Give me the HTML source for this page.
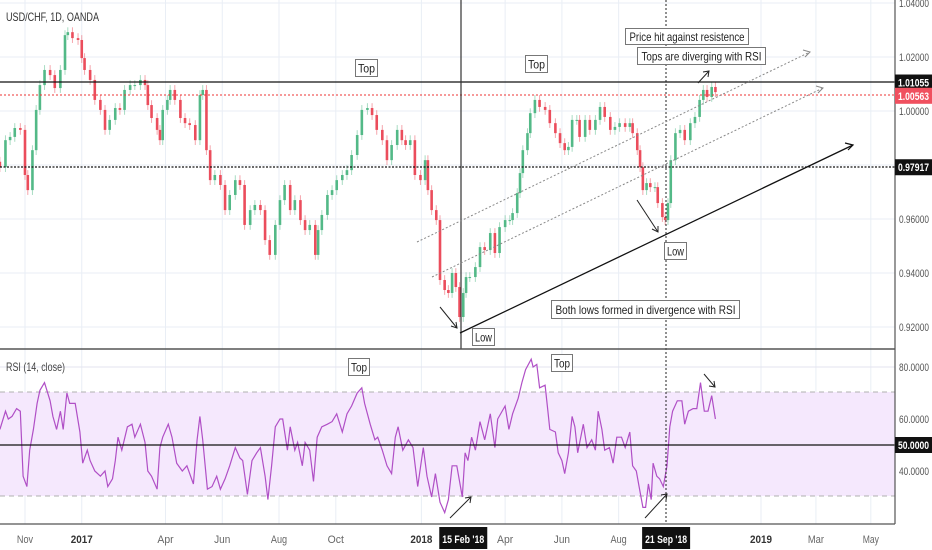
<!DOCTYPE html>
<html><head><meta charset="utf-8"><style>
html,body{margin:0;padding:0;background:#fff;}
svg{display:block;font-family:"Liberation Sans",sans-serif;}
</style></head><body>
<svg id="c" width="932" height="550" viewBox="0 0 932 550">
<g id="grid"></g>
<rect x="0" y="392" width="895" height="104" fill="#f5e8fd"/>
<line x1="0" y1="392" x2="895" y2="392" stroke="#b0b0b0" stroke-dasharray="5,4"/>
<line x1="0" y1="496" x2="895" y2="496" stroke="#b0b0b0" stroke-dasharray="5,4"/>
<g id="candles"></g>
<path id="rsiLine" fill="none" stroke="#b04fc6" stroke-width="1.2"/>
<g id="levels">
<line x1="0" y1="82" x2="895" y2="82" stroke="#111" stroke-width="1.3"/>
<line x1="0" y1="95" x2="895" y2="95" stroke="#e33" stroke-dasharray="2,2"/>
<line x1="0" y1="167" x2="895" y2="167" stroke="#111" stroke-width="1.3" stroke-dasharray="2,1.5"/>
<line x1="0" y1="445" x2="895" y2="445" stroke="#111" stroke-width="1.3"/>
<line x1="461" y1="0" x2="461" y2="349" stroke="#333" stroke-width="1.2"/>
<line x1="666" y1="0" x2="666" y2="524" stroke="#222" stroke-dasharray="2,2"/>
<line x1="417" y1="242" x2="810" y2="52" stroke="#888" stroke-dasharray="2,2"/>
<line x1="432" y1="277" x2="823" y2="88" stroke="#888" stroke-dasharray="2,2"/>
<line x1="460" y1="333" x2="853" y2="145" stroke="#111" stroke-width="1.3"/>
<path d="M845,143 L853,145 L848,150" fill="none" stroke="#111" stroke-width="1.2"/>
<path d="M803,50 L810,52 L805,57 M816,86 L823,88 L818,93" fill="none" stroke="#888"/>
<line x1="698" y1="83" x2="709" y2="71" stroke="#222"/>
<path d="M703,72 L709,71 L708,77" fill="none" stroke="#222"/>
<line x1="440" y1="307" x2="457" y2="328" stroke="#222"/>
<path d="M451,326 L457,328 L456,322" fill="none" stroke="#222"/>
<line x1="637" y1="200" x2="658" y2="232" stroke="#222"/>
<path d="M652,229 L658,232 L658,226" fill="none" stroke="#222"/>
<line x1="450" y1="518" x2="471" y2="497" stroke="#222"/>
<path d="M465,498 L471,497 L470,503" fill="none" stroke="#222"/>
<line x1="645" y1="518" x2="667" y2="494" stroke="#222"/>
<path d="M661,495 L667,494 L666,500" fill="none" stroke="#222"/>
<line x1="704" y1="374" x2="715" y2="387" stroke="#222"/>
<path d="M709,386 L715,387 L714,381" fill="none" stroke="#222"/>
</g>
<g font-size="12" fill="#222">
<g><rect x="355.500" y="59.500" width="22" height="17" fill="#fff" stroke="#777"/><text x="366.500" y="72.500" text-anchor="middle" textLength="17" lengthAdjust="spacingAndGlyphs">Top</text></g>
<g><rect x="525.500" y="55.500" width="22" height="17" fill="#fff" stroke="#777"/><text x="536.500" y="68.500" text-anchor="middle" textLength="17" lengthAdjust="spacingAndGlyphs">Top</text></g>
<g><rect x="625.500" y="28.500" width="123" height="16" fill="#fff" stroke="#777"/><text x="687" y="41" text-anchor="middle" textLength="115" lengthAdjust="spacingAndGlyphs">Price hit against resistence</text></g>
<g><rect x="637.500" y="47.500" width="128" height="17" fill="#fff" stroke="#777"/><text x="701.500" y="60.500" text-anchor="middle" textLength="120" lengthAdjust="spacingAndGlyphs">Tops are diverging with RSI</text></g>
<g><rect x="472.500" y="328.500" width="22" height="17" fill="#fff" stroke="#777"/><text x="483.500" y="341.500" text-anchor="middle" textLength="17" lengthAdjust="spacingAndGlyphs">Low</text></g>
<g><rect x="664.500" y="242.500" width="22" height="17" fill="#fff" stroke="#777"/><text x="675.500" y="255.500" text-anchor="middle" textLength="17" lengthAdjust="spacingAndGlyphs">Low</text></g>
<g><rect x="551.500" y="300.500" width="188" height="18" fill="#fff" stroke="#777"/><text x="645.500" y="314" text-anchor="middle" textLength="180" lengthAdjust="spacingAndGlyphs">Both lows formed in divergence with RSI</text></g>
<g><rect x="348.500" y="358.500" width="21" height="17" fill="#fff" stroke="#777"/><text x="359" y="371.500" text-anchor="middle" textLength="16" lengthAdjust="spacingAndGlyphs">Top</text></g>
<g><rect x="551.500" y="354.500" width="21" height="17" fill="#fff" stroke="#777"/><text x="562" y="367.500" text-anchor="middle" textLength="16" lengthAdjust="spacingAndGlyphs">Top</text></g>
</g>
<text x="6" y="21" font-size="12" fill="#333" textLength="93" lengthAdjust="spacingAndGlyphs">USD/CHF, 1D, OANDA</text>
<text x="6" y="371" font-size="12" fill="#444" textLength="59" lengthAdjust="spacingAndGlyphs">RSI (14, close)</text>
<line x1="0" y1="349" x2="895" y2="349" stroke="#555" stroke-width="1.5"/>
<line x1="0" y1="524" x2="895" y2="524" stroke="#555" stroke-width="1.2"/>
<line x1="895" y1="0" x2="895" y2="524" stroke="#555" stroke-width="1.2"/>
<g id="axes" font-size="11" fill="#555"></g>
</svg>
<script>
const priceDays=[-27,-21,-16,-11,-5,0,3,8,12,16,21,27,32,38,43,46,51,57,61,64,70,75,81,86,91,97,102,107,113,118,124,129,132,136,142,145,148,153,156,161,167,172,177,183,188,191,195,199,204,210,215,220,226,231,236,242,247,253,258,263,269,274,279,285,290,296,301,306,312,315,319,325,330,335,341,346,351,357,362,368,373,378,384,389,394,400,405,409,414,419,425,430,433,437,442,446,451,455,459,463,467,471,474,478,484,489,494,500,505,510,516,521,524,529,532,535,540,543,548,553,559,564,570,575,580,584,588,593,596,602,607,613,618,623,629,634,639,645,650,653,658,661,664,668,672,677,680,685,688,691,694,699,704,709,715,720,725,729,733,738,742];
const closes=[0.9792,0.9892,0.9904,0.9937,0.9930,0.9763,0.9707,0.9855,1.0004,1.0096,1.0152,1.0133,1.0085,1.0152,1.0281,1.0292,1.0270,1.0263,1.0196,1.0152,1.0115,1.0041,1.0004,0.9930,0.9967,1.0011,1.0004,1.0078,1.0096,1.0096,1.0115,1.0096,1.0022,0.9974,0.9930,0.9892,1.0004,1.0041,1.0078,1.0041,0.9974,0.9955,0.9948,0.9892,1.0059,1.0078,0.9855,0.9744,0.9763,0.9726,0.9633,0.9689,0.9744,0.9726,0.9578,0.9633,0.9652,0.9633,0.9522,0.9467,0.9578,0.9670,0.9726,0.9633,0.9670,0.9596,0.9559,0.9578,0.9467,0.9559,0.9615,0.9689,0.9707,0.9744,0.9763,0.9781,0.9837,0.9911,1.0004,1.0011,0.9985,0.9930,0.9892,0.9818,0.9874,0.9930,0.9892,0.9874,0.9892,0.9763,0.9744,0.9818,0.9707,0.9633,0.9596,0.9374,0.9337,0.9326,0.9400,0.9348,0.9237,0.9326,0.9385,0.9385,0.9422,0.9496,0.9485,0.9548,0.9474,0.9570,0.9596,0.9596,0.9622,0.9696,0.9770,0.9855,0.9918,0.9992,1.0041,1.0015,1.0004,0.9955,0.9918,0.9881,0.9855,0.9867,0.9967,0.9967,0.9904,0.9967,0.9930,0.9967,1.0015,0.9978,0.9930,0.9941,0.9955,0.9941,0.9955,0.9918,0.9855,0.9792,0.9707,0.9733,0.9718,0.9718,0.9659,0.9607,0.9596,0.9659,0.9818,0.9918,0.9930,0.9892,0.9955,0.9978,1.0041,1.0078,1.0052,1.0089,1.0070];
const rsiDays=[-27,-21,-18,-14,-9,-5,-2,2,5,9,13,16,21,27,30,34,38,41,45,48,54,59,62,67,70,75,81,86,89,94,97,100,104,110,115,118,124,129,132,136,142,145,148,154,158,163,169,174,181,185,188,191,196,201,206,210,215,220,226,231,234,239,244,249,253,258,261,265,269,274,277,282,285,290,293,298,301,306,310,314,319,325,330,335,341,346,351,357,362,365,371,376,379,384,389,394,398,401,406,412,417,422,428,432,437,441,446,451,455,459,464,470,473,476,480,484,489,494,500,505,508,516,520,524,530,534,538,544,546,550,553,559,562,564,570,573,577,580,584,588,591,594,600,604,609,613,616,620,623,628,632,636,641,645,650,653,657,660,664,667,670,673,675,679,682,686,690,693,696,701,706,709,713,718,722,726,730,734,738,742];
const rsiValues=[56,63,60,61,64,63,38,34,48,56,66,71,74,67,61,56,63,56,70,66,66,55,43,48,44,40,38,40,34,37,44,53,48,57,58,53,58,51,40,38,33,49,53,58,53,43,40,42,35,52,61,52,33,34,38,33,37,42,49,45,44,31,44,47,49,38,29,42,57,60,60,48,57,48,51,42,51,48,36,53,57,58,59,62,55,62,65,70,72,66,58,52,53,48,42,39,53,57,48,52,49,34,49,38,30,39,28,24,29,42,42,30,47,44,53,48,59,52,62,49,60,65,56,62,68,74,79,83,80,81,72,73,63,56,55,47,44,39,47,61,57,47,58,49,52,48,63,56,48,49,43,53,53,49,55,42,40,34,26,26,35,29,43,38,37,34,42,57,63,67,67,58,63,64,64,74,63,63,69,60];
const priceTicks=[1.04,1.02,1.00,0.98,0.96,0.94,0.92];
const priceTickLabels=["1.04000","1.02000","1.00000","","0.96000","0.94000","0.92000"];
const rsiTicks=[80,60,40];
const rsiTickLabels=["80.0000","60.0000","40.0000"];
const timeDays=[0,61,151,212,273,334,426,471,516,577,638,689,791,850,909];
const timeLabels=["Nov","2017","Apr","Jun","Aug","Oct","2018","15 Feb '18","Apr","Jun","Aug","21 Sep '18","2019","Mar","May"];
const markers=[{v:1.01055,t:"1.01055",bg:"#111"},{v:1.00563,t:"1.00563",bg:"#f0505f"},{v:0.97917,t:"0.97917",bg:"#111"}];

const NS="http://www.w3.org/2000/svg";
const X=d=>25+d*0.9305;
const PY=p=>3+(1.04-p)*2700;
const RY=v=>445-(v-50)*2.6;
function mk(tag,attrs,parent){const e=document.createElementNS(NS,tag);for(const k in attrs)e.setAttribute(k,attrs[k]);parent.appendChild(e);return e;}
const grid=document.getElementById('grid'),axes=document.getElementById('axes'),cg=document.getElementById('candles');
timeDays.forEach((d,i)=>{
  const x=X(d);
  const lab=timeLabels[i];
  const special=lab.includes("'");
  if(!special){const l=mk('line',{x1:x,y1:0,x2:x,y2:524,stroke:'#e9eef5'},grid);
  
  }
  if(special){
    const r=mk('rect',{x:x-24,y:527,width:48,height:22,fill:'#111'},axes);
    
    
  }
  const bold=/^\d{4}$/.test(lab)||special;
  const tl=special?42:(lab.length===4&&bold?22:lab.length*5.4);
  const t=mk('text',{x:x,y:543,'text-anchor':'middle',fill:special?'#fff':(bold?'#333':'#666'),'font-weight':bold?'bold':'normal',textLength:tl,lengthAdjust:'spacingAndGlyphs'},axes);
  t.textContent=lab;
  
  
});
priceTicks.forEach((p,i)=>{
  const y=PY(p);
  const l=mk('line',{x1:0,y1:y,x2:895,y2:y,stroke:'#e9eef5'},grid);
  
  
  if(priceTickLabels[i]){const t=mk('text',{x:899,y:y+4,textLength:30,lengthAdjust:'spacingAndGlyphs'},axes);t.textContent=priceTickLabels[i];
  
  }
});
rsiTicks.forEach((v,i)=>{
  const y=RY(v);
  const l=mk('line',{x1:0,y1:y,x2:895,y2:y,stroke:'#e3e3ef'},grid);
  
  
  const t=mk('text',{x:899,y:y+4,textLength:30,lengthAdjust:'spacingAndGlyphs'},axes);t.textContent=rsiTickLabels[i];
  
  
});
markers.forEach(m=>{
  const y=PY(m.v);
  const r=mk('rect',{x:895,y:y-8,width:37,height:16,fill:m.bg},axes);
  
  
  const t=mk('text',{x:898,y:y+4,fill:'#fff','font-weight':'bold',textLength:31,lengthAdjust:'spacingAndGlyphs'},axes);t.textContent=m.t;
  
  
});
{const y=RY(50);
const r=mk('rect',{x:895,y:y-8,width:37,height:16,fill:'#111'},axes);


const t=mk('text',{x:898,y:y+4,fill:'#fff','font-weight':'bold',textLength:31,lengthAdjust:'spacingAndGlyphs'},axes);t.textContent="50.0000";

}
const n=Math.min(priceDays.length,closes.length);
for(let i=0;i<n;i++){
  const c=closes[i],o=i?closes[i-1]:c+0.002;
  const x=X(priceDays[i]);
  const up=c>=o,col=up?'#53b987':'#eb4d5c';
  const hi=Math.max(o,c)+0.0018,lo=Math.min(o,c)-0.0018;
  const w=mk('line',{x1:x,y1:PY(hi),x2:x,y2:PY(lo),stroke:col,'stroke-opacity':0.5},cg);
  
  
  const top=PY(Math.max(o,c)),h=Math.max(1,PY(Math.min(o,c))-top);
  const b=mk('rect',{x:x-1.3,y:top,width:2.6,height:h,fill:col},cg);
  
  
}
const m=Math.min(rsiDays.length,rsiValues.length);
let d="";
for(let i=0;i<m;i++)d+=(i?"L":"M")+X(rsiDays[i]).toFixed(1)+","+RY(rsiValues[i]).toFixed(1);
document.getElementById('rsiLine').setAttribute('d',d);
</script>
</body></html>
